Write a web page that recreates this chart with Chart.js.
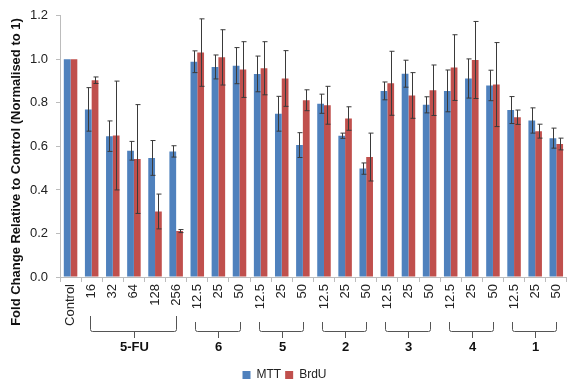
<!DOCTYPE html>
<html>
<head>
<meta charset="utf-8">
<script src="https://cdn.jsdelivr.net/npm/chart.js@4/dist/chart.umd.min.js"></script>
<style>
  html, body { margin: 0; padding: 0; background: #fff; }
  #wrap { width: 574px; height: 383px; }
</style>
</head>
<body>
<div id="wrap"><canvas id="chart"></canvas></div>
<script>
// categories along the x axis (concentrations)
const categories = ['Control', '16', '32', '64', '128', '256',
  '12.5', '25', '50', '12.5', '25', '50', '12.5', '25', '50',
  '12.5', '25', '50', '12.5', '25', '50', '12.5', '25', '50'];

// compound groups under the brackets
const groupLabels = ['5-FU', '6', '5', '2', '3', '4', '1'];
const groupFirst  = [1, 6, 9, 12, 15, 18, 21];
const groupLast   = [5, 8, 11, 14, 17, 20, 23];

// series
const mttValues  = [1.0, 0.77, 0.647, 0.58, 0.547, 0.577, 0.989, 0.965, 0.971, 0.933, 0.75, 0.606,
  0.796, 0.649, 0.498, 0.855, 0.934, 0.791, 0.855, 0.912, 0.88, 0.767, 0.719, 0.638];
const mttErrors  = [0, 0.10, 0.07, 0.043, 0.08, 0.026, 0.05, 0.055, 0.083, 0.082, 0.08, 0.057,
  0.044, 0.012, 0.026, 0.041, 0.062, 0.037, 0.096, 0.09, 0.07, 0.062, 0.058, 0.046];
const brduValues = [1.0, 0.904, 0.65, 0.542, 0.301, 0.211, 1.031, 1.009, 0.953, 0.959, 0.912, 0.812,
  0.789, 0.728, 0.551, 0.89, 0.834, 0.858, 0.962, 0.997, 0.884, 0.734, 0.67, 0.611];
const brduErrors = [0, 0.015, 0.25, 0.25, 0.08, 0.007, 0.155, 0.127, 0.128, 0.122, 0.128, 0.048,
  0.087, 0.054, 0.11, 0.147, 0.105, 0.116, 0.151, 0.177, 0.193, 0.033, 0.032, 0.027];

const yTitle = 'Fold Change Relative to Control (Normalised to 1)';
const FONT = "'Liberation Sans', Arial, sans-serif";

// error bars drawn from the bar elements + y scale
const errorBars = {
  id: 'errorBars',
  afterDatasetsDraw(chart) {
    const { ctx, scales: { y } } = chart;
    const errs = [mttErrors, brduErrors];
    ctx.save();
    ctx.strokeStyle = '#3a3a3a';
    ctx.lineWidth = 1;
    chart.data.datasets.forEach((ds, di) => {
      const meta = chart.getDatasetMeta(di);
      meta.data.forEach((bar, i) => {
        const e = errs[di][i];
        if (!e) return;
        const v = ds.data[i];
        const x = Math.round(bar.x) + 0.5;
        const yt = y.getPixelForValue(v + e);
        const yb = y.getPixelForValue(v - e);
        ctx.beginPath();
        ctx.moveTo(x, yt); ctx.lineTo(x, yb);
        ctx.moveTo(x - 2, yt); ctx.lineTo(x + 3, yt);
        ctx.moveTo(x - 2, yb); ctx.lineTo(x + 3, yb);
        ctx.stroke();
      });
    });
    ctx.restore();
  }
};

// brackets + group names below the tick labels, and the y title
const groupBrackets = {
  id: 'groupBrackets',
  afterDraw(chart) {
    const { ctx, scales: { x } } = chart;
    ctx.save();
    ctx.strokeStyle = '#555';
    ctx.lineWidth = 1;
    groupLabels.forEach((name, g) => {
      const x0 = Math.round(x.getPixelForValue(groupFirst[g])) - 1.5;
      const x1 = Math.round(x.getPixelForValue(groupLast[g])) + 0.5;
      const xm = Math.round((x0 + x1) / 2) + 0.5;
      const top = g === 0 ? 316 : 322;
      const mid = 331.5;
      ctx.beginPath();
      ctx.moveTo(x0, top); ctx.lineTo(x0, mid - 2);
      ctx.quadraticCurveTo(x0, mid, x0 + 2, mid);
      ctx.lineTo(x1 - 2, mid);
      ctx.quadraticCurveTo(x1, mid, x1, mid - 2);
      ctx.lineTo(x1, top);
      ctx.moveTo(xm, mid); ctx.lineTo(xm, 338);
      ctx.stroke();
      ctx.fillStyle = '#111';
      ctx.font = 'bold 13px ' + FONT;
      ctx.textAlign = 'center';
      ctx.textBaseline = 'middle';
      ctx.fillText(name, xm, 347);
    });
    ctx.translate(16, 172);
    ctx.rotate(-Math.PI / 2);
    ctx.font = 'bold 13px ' + FONT;
    ctx.fillStyle = '#111';
    ctx.textAlign = 'center';
    ctx.textBaseline = 'middle';
    ctx.fillText(yTitle, 0, 0);
    ctx.restore();
  }
};

new Chart(document.getElementById('chart'), {
  type: 'bar',
  data: {
    labels: categories,
    datasets: [
      { label: 'MTT',  data: mttValues,  backgroundColor: '#4f81bd' },
      { label: 'BrdU', data: brduValues, backgroundColor: '#c0504d' }
    ]
  },
  options: {
    responsive: true,
    maintainAspectRatio: false,
    animation: false,
    categoryPercentage: 0.64,
    barPercentage: 1.0,
    layout: { padding: { top: 8, right: 5, left: 0, bottom: -8 } },
    plugins: {
      tooltip: { enabled: false },
      legend: {
        position: 'bottom',
        labels: { boxWidth: 8, boxHeight: 8, padding: 4, color: '#222', font: { family: FONT, size: 12 } }
      }
    },
    scales: {
      x: {
        grid: { drawOnChartArea: false, color: '#bcbcbc', tickLength: 5, offset: true },
        border: { color: '#bcbcbc' },
        ticks: { minRotation: 90, maxRotation: 90, color: '#222', padding: 2, font: { family: FONT, size: 13 } },
        afterFit(scale) { scale.height = 88; }
      },
      y: {
        min: 0, max: 1.2,
        grid: { drawOnChartArea: false, color: '#bcbcbc', tickLength: 4 },
        border: { color: '#bcbcbc' },
        ticks: {
          stepSize: 0.2, color: '#222', padding: 8,
          font: { family: FONT, size: 13 },
          callback: v => v.toFixed(1)
        },
        afterFit(scale) { scale.width = 60; }
      }
    }
  },
  plugins: [errorBars, groupBrackets]
});
</script>
</body>
</html>
